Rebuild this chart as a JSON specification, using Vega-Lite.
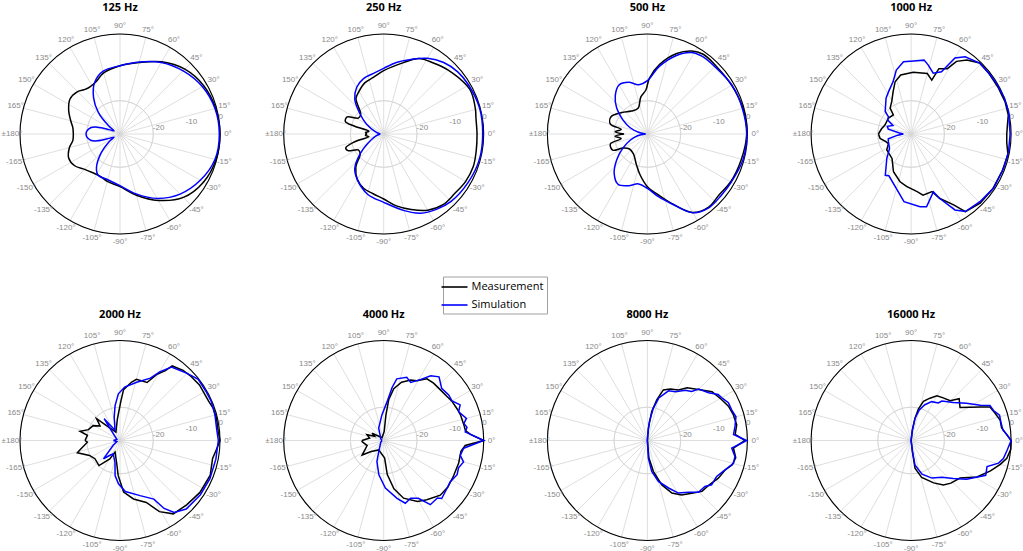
{
"$schema":"https://vega.github.io/schema/vega-lite/v6.json",
"padding":{"left":1,"top":2,"right":0,"bottom":0},
"background":"white",
"bounds":"flush",
"columns":4,
"spacing":{"row":106.5,"column":63.7},
"resolve":{"scale":{"x":"independent","y":"independent"}},
"config":{"view":{"stroke":null},
 "legend":{"orient":"none","legendX":423,"legendY":242.5,"strokeColor":"#a0a0a0","fillColor":"white","padding":3,"labelFont":"Open Sans","labelFontSize":11,"labelColor":"#000","symbolType":"M-2,0H2","symbolSize":169,"symbolStrokeWidth":1.6,"symbolOffset":1,"rowPadding":5,"labelOffset":9.5}},
"datasets":{
 "rings":[{"v":10},{"v":20}],
 "outer":[{"v":30}],
 "spokes":[{"a":0},{"a":15},{"a":30},{"a":45},{"a":60},{"a":75},{"a":90},{"a":105},{"a":120},{"a":135},{"a":150},{"a":165}],
 "alabels":[{"a":0,"t":"0°"},{"a":15,"t":"15°"},{"a":30,"t":"30°"},{"a":45,"t":"45°"},{"a":60,"t":"60°"},{"a":75,"t":"75°"},{"a":90,"t":"90°"},{"a":105,"t":"105°"},{"a":120,"t":"120°"},{"a":135,"t":"135°"},{"a":150,"t":"150°"},{"a":165,"t":"165°"},{"a":180,"t":"±180°"},{"a":-165,"t":"-165°"},{"a":-150,"t":"-150°"},{"a":-135,"t":"-135°"},{"a":-120,"t":"-120°"},{"a":-105,"t":"-105°"},{"a":-90,"t":"-90°"},{"a":-75,"t":"-75°"},{"a":-60,"t":"-60°"},{"a":-45,"t":"-45°"},{"a":-30,"t":"-30°"},{"a":-15,"t":"-15°"}],
 "rlabels":[{"v":10,"t":"-20"},{"v":20,"t":"-10"},{"v":30,"t":"0"}],
 "curves":[
{"f":125,"s":"Measurement","a":-180,"d":-16},{"f":125,"s":"Measurement","a":-172,"d":-15.7},{"f":125,"s":"Measurement","a":-165,"d":-14.3},{"f":125,"s":"Measurement","a":-155,"d":-13},{"f":125,"s":"Measurement","a":-145,"d":-13.4},{"f":125,"s":"Measurement","a":-135,"d":-15},{"f":125,"s":"Measurement","a":-125,"d":-15.8},{"f":125,"s":"Measurement","a":-115,"d":-16},{"f":125,"s":"Measurement","a":-105,"d":-15.3},{"f":125,"s":"Measurement","a":-90,"d":-14.2},{"f":125,"s":"Measurement","a":-75,"d":-11},{"f":125,"s":"Measurement","a":-60,"d":-7},{"f":125,"s":"Measurement","a":-45,"d":-3.1},{"f":125,"s":"Measurement","a":-30,"d":-1.1},{"f":125,"s":"Measurement","a":-15,"d":-0.2},{"f":125,"s":"Measurement","a":0,"d":0},{"f":125,"s":"Measurement","a":15,"d":-0.3},{"f":125,"s":"Measurement","a":30,"d":-1},{"f":125,"s":"Measurement","a":45,"d":-2.5},{"f":125,"s":"Measurement","a":60,"d":-5},{"f":125,"s":"Measurement","a":75,"d":-7.8},{"f":125,"s":"Measurement","a":90,"d":-9.5},{"f":125,"s":"Measurement","a":105,"d":-11},{"f":125,"s":"Measurement","a":115,"d":-12.8},{"f":125,"s":"Measurement","a":122,"d":-13.2},{"f":125,"s":"Measurement","a":128,"d":-13},{"f":125,"s":"Measurement","a":135,"d":-12},{"f":125,"s":"Measurement","a":145,"d":-11.7},{"f":125,"s":"Measurement","a":155,"d":-13},{"f":125,"s":"Measurement","a":165,"d":-14.7},{"f":125,"s":"Measurement","a":172,"d":-15.7},{"f":125,"s":"Measurement","a":180,"d":-16},
{"f":125,"s":"Simulation","a":-180,"d":-19.8},{"f":125,"s":"Simulation","a":-175,"d":-20},{"f":125,"s":"Simulation","a":-168,"d":-21},{"f":125,"s":"Simulation","a":-163,"d":-23},{"f":125,"s":"Simulation","a":-158,"d":-26.5},{"f":125,"s":"Simulation","a":-152,"d":-28},{"f":125,"s":"Simulation","a":-145,"d":-26},{"f":125,"s":"Simulation","a":-135,"d":-22},{"f":125,"s":"Simulation","a":-125,"d":-17.7},{"f":125,"s":"Simulation","a":-118,"d":-16},{"f":125,"s":"Simulation","a":-105,"d":-15.8},{"f":125,"s":"Simulation","a":-90,"d":-14.5},{"f":125,"s":"Simulation","a":-75,"d":-11.4},{"f":125,"s":"Simulation","a":-60,"d":-7.7},{"f":125,"s":"Simulation","a":-45,"d":-4.5},{"f":125,"s":"Simulation","a":-30,"d":-2.2},{"f":125,"s":"Simulation","a":-15,"d":-0.5},{"f":125,"s":"Simulation","a":0,"d":-0.2},{"f":125,"s":"Simulation","a":15,"d":-0.5},{"f":125,"s":"Simulation","a":30,"d":-1.5},{"f":125,"s":"Simulation","a":45,"d":-3.2},{"f":125,"s":"Simulation","a":60,"d":-5.2},{"f":125,"s":"Simulation","a":75,"d":-7.6},{"f":125,"s":"Simulation","a":90,"d":-9.5},{"f":125,"s":"Simulation","a":105,"d":-10.5},{"f":125,"s":"Simulation","a":116,"d":-12.7},{"f":125,"s":"Simulation","a":126,"d":-16.5},{"f":125,"s":"Simulation","a":135,"d":-20.8},{"f":125,"s":"Simulation","a":144,"d":-25.7},{"f":125,"s":"Simulation","a":152,"d":-28},{"f":125,"s":"Simulation","a":158,"d":-26.5},{"f":125,"s":"Simulation","a":163,"d":-23},{"f":125,"s":"Simulation","a":168,"d":-21},{"f":125,"s":"Simulation","a":175,"d":-20},{"f":125,"s":"Simulation","a":180,"d":-19.8},
{"f":250,"s":"Measurement","a":-180,"d":-25},{"f":250,"s":"Measurement","a":-176,"d":-24.5},{"f":250,"s":"Measurement","a":-170,"d":-25.5},{"f":250,"s":"Measurement","a":-165,"d":-21},{"f":250,"s":"Measurement","a":-160,"d":-17.9},{"f":250,"s":"Measurement","a":-155,"d":-18.2},{"f":250,"s":"Measurement","a":-148,"d":-21},{"f":250,"s":"Measurement","a":-140,"d":-20.8},{"f":250,"s":"Measurement","a":-130,"d":-17},{"f":250,"s":"Measurement","a":-120,"d":-14.2},{"f":250,"s":"Measurement","a":-110,"d":-12.6},{"f":250,"s":"Measurement","a":-100,"d":-11.8},{"f":250,"s":"Measurement","a":-90,"d":-10.5},{"f":250,"s":"Measurement","a":-80,"d":-8.1},{"f":250,"s":"Measurement","a":-70,"d":-5.9},{"f":250,"s":"Measurement","a":-60,"d":-3.6},{"f":250,"s":"Measurement","a":-50,"d":-2.3},{"f":250,"s":"Measurement","a":-40,"d":-2.2},{"f":250,"s":"Measurement","a":-30,"d":-1.6},{"f":250,"s":"Measurement","a":-20,"d":-1.4},{"f":250,"s":"Measurement","a":-10,"d":-1.8},{"f":250,"s":"Measurement","a":0,"d":-2},{"f":250,"s":"Measurement","a":10,"d":-1.9},{"f":250,"s":"Measurement","a":15,"d":-1.5},{"f":250,"s":"Measurement","a":25,"d":-0.9},{"f":250,"s":"Measurement","a":30,"d":-1.1},{"f":250,"s":"Measurement","a":45,"d":-2.8},{"f":250,"s":"Measurement","a":55,"d":-4},{"f":250,"s":"Measurement","a":65,"d":-5},{"f":250,"s":"Measurement","a":75,"d":-7.9},{"f":250,"s":"Measurement","a":90,"d":-11},{"f":250,"s":"Measurement","a":100,"d":-12.7},{"f":250,"s":"Measurement","a":110,"d":-13.6},{"f":250,"s":"Measurement","a":120,"d":-15.2},{"f":250,"s":"Measurement","a":128,"d":-16.5},{"f":250,"s":"Measurement","a":140,"d":-21},{"f":250,"s":"Measurement","a":148,"d":-21},{"f":250,"s":"Measurement","a":155,"d":-17.9},{"f":250,"s":"Measurement","a":162,"d":-17.9},{"f":250,"s":"Measurement","a":165,"d":-21},{"f":250,"s":"Measurement","a":170,"d":-25.5},{"f":250,"s":"Measurement","a":176,"d":-24.5},{"f":250,"s":"Measurement","a":180,"d":-25},
{"f":250,"s":"Simulation","a":-180,"d":-29},{"f":250,"s":"Simulation","a":-165,"d":-27.5},{"f":250,"s":"Simulation","a":-150,"d":-24.6},{"f":250,"s":"Simulation","a":-140,"d":-20.8},{"f":250,"s":"Simulation","a":-130,"d":-16.5},{"f":250,"s":"Simulation","a":-120,"d":-14.2},{"f":250,"s":"Simulation","a":-105,"d":-11.3},{"f":250,"s":"Simulation","a":-90,"d":-9.5},{"f":250,"s":"Simulation","a":-75,"d":-6.2},{"f":250,"s":"Simulation","a":-65,"d":-3.8},{"f":250,"s":"Simulation","a":-55,"d":-2.4},{"f":250,"s":"Simulation","a":-45,"d":-1.4},{"f":250,"s":"Simulation","a":-30,"d":-0.8},{"f":250,"s":"Simulation","a":-15,"d":-0.3},{"f":250,"s":"Simulation","a":0,"d":-0.3},{"f":250,"s":"Simulation","a":15,"d":-0.2},{"f":250,"s":"Simulation","a":30,"d":-0.6},{"f":250,"s":"Simulation","a":40,"d":-1},{"f":250,"s":"Simulation","a":50,"d":-2},{"f":250,"s":"Simulation","a":60,"d":-3.8},{"f":250,"s":"Simulation","a":70,"d":-6.2},{"f":250,"s":"Simulation","a":80,"d":-8.2},{"f":250,"s":"Simulation","a":90,"d":-10.3},{"f":250,"s":"Simulation","a":100,"d":-11.6},{"f":250,"s":"Simulation","a":110,"d":-12.3},{"f":250,"s":"Simulation","a":120,"d":-13.8},{"f":250,"s":"Simulation","a":130,"d":-16.5},{"f":250,"s":"Simulation","a":140,"d":-20.8},{"f":250,"s":"Simulation","a":150,"d":-24},{"f":250,"s":"Simulation","a":165,"d":-27.5},{"f":250,"s":"Simulation","a":180,"d":-29},
{"f":500,"s":"Measurement","a":-180,"d":-23},{"f":500,"s":"Measurement","a":-176,"d":-20.3},{"f":500,"s":"Measurement","a":-170,"d":-22},{"f":500,"s":"Measurement","a":-165,"d":-18.5},{"f":500,"s":"Measurement","a":-155,"d":-18.5},{"f":500,"s":"Measurement","a":-150,"d":-21.6},{"f":500,"s":"Measurement","a":-140,"d":-23},{"f":500,"s":"Measurement","a":-125,"d":-22.7},{"f":500,"s":"Measurement","a":-110,"d":-20.3},{"f":500,"s":"Measurement","a":-100,"d":-17.5},{"f":500,"s":"Measurement","a":-90,"d":-14.2},{"f":500,"s":"Measurement","a":-80,"d":-11.5},{"f":500,"s":"Measurement","a":-70,"d":-7.6},{"f":500,"s":"Measurement","a":-60,"d":-2.8},{"f":500,"s":"Measurement","a":-50,"d":-1.4},{"f":500,"s":"Measurement","a":-40,"d":-1.8},{"f":500,"s":"Measurement","a":-30,"d":-1.2},{"f":500,"s":"Measurement","a":-15,"d":-0.8},{"f":500,"s":"Measurement","a":0,"d":-0.2},{"f":500,"s":"Measurement","a":15,"d":-0.3},{"f":500,"s":"Measurement","a":30,"d":-0.8},{"f":500,"s":"Measurement","a":45,"d":-1},{"f":500,"s":"Measurement","a":55,"d":-0.8},{"f":500,"s":"Measurement","a":62,"d":-1.8},{"f":500,"s":"Measurement","a":70,"d":-4.3},{"f":500,"s":"Measurement","a":80,"d":-8.8},{"f":500,"s":"Measurement","a":88,"d":-13.3},{"f":500,"s":"Measurement","a":92,"d":-16.8},{"f":500,"s":"Measurement","a":100,"d":-18.7},{"f":500,"s":"Measurement","a":110,"d":-21.8},{"f":500,"s":"Measurement","a":125,"d":-21.6},{"f":500,"s":"Measurement","a":140,"d":-20},{"f":500,"s":"Measurement","a":155,"d":-17.9},{"f":500,"s":"Measurement","a":165,"d":-18.5},{"f":500,"s":"Measurement","a":170,"d":-22},{"f":500,"s":"Measurement","a":176,"d":-20.3},{"f":500,"s":"Measurement","a":180,"d":-23},
{"f":500,"s":"Simulation","a":-180,"d":-29.5},{"f":500,"s":"Simulation","a":-170,"d":-27},{"f":500,"s":"Simulation","a":-160,"d":-24.5},{"f":500,"s":"Simulation","a":-150,"d":-21.5},{"f":500,"s":"Simulation","a":-140,"d":-18},{"f":500,"s":"Simulation","a":-130,"d":-14.5},{"f":500,"s":"Simulation","a":-120,"d":-12.5},{"f":500,"s":"Simulation","a":-110,"d":-13.5},{"f":500,"s":"Simulation","a":-100,"d":-14.8},{"f":500,"s":"Simulation","a":-90,"d":-13.7},{"f":500,"s":"Simulation","a":-80,"d":-10.9},{"f":500,"s":"Simulation","a":-70,"d":-7.5},{"f":500,"s":"Simulation","a":-60,"d":-2.7},{"f":500,"s":"Simulation","a":-50,"d":-1.2},{"f":500,"s":"Simulation","a":-40,"d":-1.2},{"f":500,"s":"Simulation","a":-30,"d":-1},{"f":500,"s":"Simulation","a":-15,"d":-0.3},{"f":500,"s":"Simulation","a":0,"d":-0.2},{"f":500,"s":"Simulation","a":15,"d":-0.5},{"f":500,"s":"Simulation","a":30,"d":-0.7},{"f":500,"s":"Simulation","a":45,"d":-1.4},{"f":500,"s":"Simulation","a":55,"d":-1.5},{"f":500,"s":"Simulation","a":62,"d":-2.3},{"f":500,"s":"Simulation","a":70,"d":-5},{"f":500,"s":"Simulation","a":80,"d":-9.4},{"f":500,"s":"Simulation","a":90,"d":-14},{"f":500,"s":"Simulation","a":100,"d":-15},{"f":500,"s":"Simulation","a":110,"d":-13.5},{"f":500,"s":"Simulation","a":120,"d":-13},{"f":500,"s":"Simulation","a":130,"d":-15},{"f":500,"s":"Simulation","a":140,"d":-18},{"f":500,"s":"Simulation","a":150,"d":-21.5},{"f":500,"s":"Simulation","a":160,"d":-24.5},{"f":500,"s":"Simulation","a":170,"d":-27.5},{"f":500,"s":"Simulation","a":180,"d":-29.5},
{"f":1000,"s":"Measurement","a":-180,"d":-20.2},{"f":1000,"s":"Measurement","a":-172,"d":-20.6},{"f":1000,"s":"Measurement","a":-164,"d":-22},{"f":1000,"s":"Measurement","a":-157,"d":-22.6},{"f":1000,"s":"Measurement","a":-147,"d":-21.3},{"f":1000,"s":"Measurement","a":-128,"d":-20.7},{"f":1000,"s":"Measurement","a":-115,"d":-17.5},{"f":1000,"s":"Measurement","a":-103,"d":-15.3},{"f":1000,"s":"Measurement","a":-95,"d":-14.2},{"f":1000,"s":"Measurement","a":-84,"d":-12.6},{"f":1000,"s":"Measurement","a":-79,"d":-11.3},{"f":1000,"s":"Measurement","a":-70,"d":-11.6},{"f":1000,"s":"Measurement","a":-66,"d":-8.8},{"f":1000,"s":"Measurement","a":-59,"d":-5.2},{"f":1000,"s":"Measurement","a":-55,"d":-1.6},{"f":1000,"s":"Measurement","a":-45,"d":-0.7},{"f":1000,"s":"Measurement","a":-34,"d":-0.5},{"f":1000,"s":"Measurement","a":-22,"d":-0.5},{"f":1000,"s":"Measurement","a":-12,"d":-0.3},{"f":1000,"s":"Measurement","a":-5,"d":-1.2},{"f":1000,"s":"Measurement","a":0,"d":-1.3},{"f":1000,"s":"Measurement","a":5,"d":-1},{"f":1000,"s":"Measurement","a":11,"d":-0.3},{"f":1000,"s":"Measurement","a":19,"d":-0.2},{"f":1000,"s":"Measurement","a":28,"d":-0.4},{"f":1000,"s":"Measurement","a":38,"d":-0.4},{"f":1000,"s":"Measurement","a":46,"d":-0.4},{"f":1000,"s":"Measurement","a":53,"d":-2.2},{"f":1000,"s":"Measurement","a":58,"d":-4.3},{"f":1000,"s":"Measurement","a":61,"d":-7.6},{"f":1000,"s":"Measurement","a":67,"d":-8.7},{"f":1000,"s":"Measurement","a":69,"d":-12.7},{"f":1000,"s":"Measurement","a":75,"d":-11.2},{"f":1000,"s":"Measurement","a":88,"d":-11.5},{"f":1000,"s":"Measurement","a":100,"d":-12},{"f":1000,"s":"Measurement","a":107,"d":-13.6},{"f":1000,"s":"Measurement","a":113,"d":-16.2},{"f":1000,"s":"Measurement","a":121,"d":-18.7},{"f":1000,"s":"Measurement","a":129,"d":-20},{"f":1000,"s":"Measurement","a":133,"d":-22.2},{"f":1000,"s":"Measurement","a":145,"d":-21.7},{"f":1000,"s":"Measurement","a":161,"d":-21.7},{"f":1000,"s":"Measurement","a":170,"d":-21},{"f":1000,"s":"Measurement","a":180,"d":-20.2},
{"f":1000,"s":"Simulation","a":-180,"d":-27.7},{"f":1000,"s":"Simulation","a":-175,"d":-26},{"f":1000,"s":"Simulation","a":-168,"d":-23},{"f":1000,"s":"Simulation","a":-161,"d":-22.8},{"f":1000,"s":"Simulation","a":-146,"d":-22.2},{"f":1000,"s":"Simulation","a":-135,"d":-19.7},{"f":1000,"s":"Simulation","a":-122,"d":-15.4},{"f":1000,"s":"Simulation","a":-118,"d":-15.8},{"f":1000,"s":"Simulation","a":-104,"d":-12.7},{"f":1000,"s":"Simulation","a":-96,"d":-9.6},{"f":1000,"s":"Simulation","a":-83,"d":-8},{"f":1000,"s":"Simulation","a":-78,"d":-7.7},{"f":1000,"s":"Simulation","a":-69,"d":-11.4},{"f":1000,"s":"Simulation","a":-66,"d":-8.8},{"f":1000,"s":"Simulation","a":-60,"d":-3.7},{"f":1000,"s":"Simulation","a":-55,"d":-1.6},{"f":1000,"s":"Simulation","a":-44,"d":-1},{"f":1000,"s":"Simulation","a":-33,"d":-0.4},{"f":1000,"s":"Simulation","a":-20,"d":-0.4},{"f":1000,"s":"Simulation","a":-10,"d":-0.3},{"f":1000,"s":"Simulation","a":0,"d":-0.3},{"f":1000,"s":"Simulation","a":13,"d":0},{"f":1000,"s":"Simulation","a":21,"d":0},{"f":1000,"s":"Simulation","a":30,"d":-0.2},{"f":1000,"s":"Simulation","a":38,"d":-0.4},{"f":1000,"s":"Simulation","a":46,"d":-0.4},{"f":1000,"s":"Simulation","a":55,"d":-1.7},{"f":1000,"s":"Simulation","a":60,"d":-3.7},{"f":1000,"s":"Simulation","a":64,"d":-9.2},{"f":1000,"s":"Simulation","a":70,"d":-10.6},{"f":1000,"s":"Simulation","a":76,"d":-8.7},{"f":1000,"s":"Simulation","a":80,"d":-7.5},{"f":1000,"s":"Simulation","a":88,"d":-8.1},{"f":1000,"s":"Simulation","a":96,"d":-8.2},{"f":1000,"s":"Simulation","a":103,"d":-10.3},{"f":1000,"s":"Simulation","a":109,"d":-13.4},{"f":1000,"s":"Simulation","a":118,"d":-15.6},{"f":1000,"s":"Simulation","a":125,"d":-16.9},{"f":1000,"s":"Simulation","a":139,"d":-19.7},{"f":1000,"s":"Simulation","a":143,"d":-21.5},{"f":1000,"s":"Simulation","a":149,"d":-21.8},{"f":1000,"s":"Simulation","a":155,"d":-24},{"f":1000,"s":"Simulation","a":162,"d":-22.5},{"f":1000,"s":"Simulation","a":168,"d":-23},{"f":1000,"s":"Simulation","a":175,"d":-26.5},{"f":1000,"s":"Simulation","a":180,"d":-27.7},
{"f":2000,"s":"Measurement","a":-180,"d":-19.5},{"f":2000,"s":"Measurement","a":-177,"d":-20.2},{"f":2000,"s":"Measurement","a":-167,"d":-17.7},{"f":2000,"s":"Measurement","a":-164,"d":-16.7},{"f":2000,"s":"Measurement","a":-154,"d":-19.8},{"f":2000,"s":"Measurement","a":-144,"d":-20.7},{"f":2000,"s":"Measurement","a":-130,"d":-20.2},{"f":2000,"s":"Measurement","a":-119,"d":-23.7},{"f":2000,"s":"Measurement","a":-113,"d":-26.2},{"f":2000,"s":"Measurement","a":-99,"d":-23.4},{"f":2000,"s":"Measurement","a":-93,"d":-19.5},{"f":2000,"s":"Measurement","a":-86,"d":-14.5},{"f":2000,"s":"Measurement","a":-77,"d":-12},{"f":2000,"s":"Measurement","a":-67,"d":-9.8},{"f":2000,"s":"Measurement","a":-61,"d":-5.6},{"f":2000,"s":"Measurement","a":-54,"d":-2.8},{"f":2000,"s":"Measurement","a":-44,"d":-2.2},{"f":2000,"s":"Measurement","a":-33,"d":-1.4},{"f":2000,"s":"Measurement","a":-21,"d":-1},{"f":2000,"s":"Measurement","a":-11,"d":-1.7},{"f":2000,"s":"Measurement","a":-5,"d":-0.9},{"f":2000,"s":"Measurement","a":0,"d":0},{"f":2000,"s":"Measurement","a":5,"d":-0.4},{"f":2000,"s":"Measurement","a":13,"d":-0.3},{"f":2000,"s":"Measurement","a":19,"d":-0.4},{"f":2000,"s":"Measurement","a":24,"d":-0.9},{"f":2000,"s":"Measurement","a":35,"d":-0.9},{"f":2000,"s":"Measurement","a":42,"d":-1.3},{"f":2000,"s":"Measurement","a":48,"d":-1.7},{"f":2000,"s":"Measurement","a":55,"d":-2.7},{"f":2000,"s":"Measurement","a":57,"d":-5},{"f":2000,"s":"Measurement","a":61,"d":-7.4},{"f":2000,"s":"Measurement","a":65,"d":-10.8},{"f":2000,"s":"Measurement","a":75,"d":-11},{"f":2000,"s":"Measurement","a":79,"d":-12.2},{"f":2000,"s":"Measurement","a":86,"d":-14.7},{"f":2000,"s":"Measurement","a":89,"d":-18.5},{"f":2000,"s":"Measurement","a":97,"d":-23.5},{"f":2000,"s":"Measurement","a":116,"d":-27.2},{"f":2000,"s":"Measurement","a":137,"d":-20.4},{"f":2000,"s":"Measurement","a":144,"d":-22.6},{"f":2000,"s":"Measurement","a":151,"d":-20.8},{"f":2000,"s":"Measurement","a":161,"d":-20},{"f":2000,"s":"Measurement","a":167,"d":-17.7},{"f":2000,"s":"Measurement","a":171,"d":-20.1},{"f":2000,"s":"Measurement","a":180,"d":-19.5},
{"f":2000,"s":"Simulation","a":-180,"d":-28},{"f":2000,"s":"Simulation","a":-160,"d":-29},{"f":2000,"s":"Simulation","a":-145,"d":-27.5},{"f":2000,"s":"Simulation","a":-132,"d":-22.6},{"f":2000,"s":"Simulation","a":-125,"d":-24.5},{"f":2000,"s":"Simulation","a":-117,"d":-25.5},{"f":2000,"s":"Simulation","a":-103,"d":-23.3},{"f":2000,"s":"Simulation","a":-98,"d":-19.4},{"f":2000,"s":"Simulation","a":-92,"d":-17},{"f":2000,"s":"Simulation","a":-84,"d":-14.6},{"f":2000,"s":"Simulation","a":-70,"d":-12.4},{"f":2000,"s":"Simulation","a":-60,"d":-9.7},{"f":2000,"s":"Simulation","a":-57,"d":-5.7},{"f":2000,"s":"Simulation","a":-53,"d":-3},{"f":2000,"s":"Simulation","a":-46,"d":-1.4},{"f":2000,"s":"Simulation","a":-34,"d":-0.9},{"f":2000,"s":"Simulation","a":-23,"d":-0.7},{"f":2000,"s":"Simulation","a":-11,"d":-0.7},{"f":2000,"s":"Simulation","a":0,"d":-0.5},{"f":2000,"s":"Simulation","a":7,"d":-0.8},{"f":2000,"s":"Simulation","a":15,"d":-0.5},{"f":2000,"s":"Simulation","a":23,"d":-0.2},{"f":2000,"s":"Simulation","a":30,"d":-0.3},{"f":2000,"s":"Simulation","a":38,"d":-0.2},{"f":2000,"s":"Simulation","a":45,"d":-1.5},{"f":2000,"s":"Simulation","a":55,"d":-3.1},{"f":2000,"s":"Simulation","a":60,"d":-6.2},{"f":2000,"s":"Simulation","a":64,"d":-9.2},{"f":2000,"s":"Simulation","a":74,"d":-11.8},{"f":2000,"s":"Simulation","a":85,"d":-13.9},{"f":2000,"s":"Simulation","a":92,"d":-16},{"f":2000,"s":"Simulation","a":98,"d":-19.4},{"f":2000,"s":"Simulation","a":104,"d":-22.8},{"f":2000,"s":"Simulation","a":116,"d":-26.6},{"f":2000,"s":"Simulation","a":126,"d":-21.9},{"f":2000,"s":"Simulation","a":135,"d":-27.2},{"f":2000,"s":"Simulation","a":160,"d":-29},{"f":2000,"s":"Simulation","a":180,"d":-28},
{"f":4000,"s":"Measurement","a":-180,"d":-23.5},{"f":4000,"s":"Measurement","a":-177,"d":-23.5},{"f":4000,"s":"Measurement","a":-163,"d":-24.8},{"f":4000,"s":"Measurement","a":-146,"d":-22.2},{"f":4000,"s":"Measurement","a":-139,"d":-25},{"f":4000,"s":"Measurement","a":-118,"d":-26.8},{"f":4000,"s":"Measurement","a":-87,"d":-24.7},{"f":4000,"s":"Measurement","a":-84,"d":-19.7},{"f":4000,"s":"Measurement","a":-78,"d":-15.2},{"f":4000,"s":"Measurement","a":-71,"d":-11.7},{"f":4000,"s":"Measurement","a":-61,"d":-9.1},{"f":4000,"s":"Measurement","a":-54,"d":-8},{"f":4000,"s":"Measurement","a":-44,"d":-6.4},{"f":4000,"s":"Measurement","a":-36,"d":-6.2},{"f":4000,"s":"Measurement","a":-27,"d":-6.5},{"f":4000,"s":"Measurement","a":-17,"d":-6.5},{"f":4000,"s":"Measurement","a":-8,"d":-6.6},{"f":4000,"s":"Measurement","a":-3.5,"d":-5.5},{"f":4000,"s":"Measurement","a":0,"d":0},{"f":4000,"s":"Measurement","a":4,"d":-3.9},{"f":4000,"s":"Measurement","a":7,"d":-5.3},{"f":4000,"s":"Measurement","a":11,"d":-5.5},{"f":4000,"s":"Measurement","a":18,"d":-5.7},{"f":4000,"s":"Measurement","a":23,"d":-6},{"f":4000,"s":"Measurement","a":30,"d":-6.4},{"f":4000,"s":"Measurement","a":35,"d":-6.9},{"f":4000,"s":"Measurement","a":42,"d":-7.2},{"f":4000,"s":"Measurement","a":49,"d":-7.2},{"f":4000,"s":"Measurement","a":55,"d":-7.4},{"f":4000,"s":"Measurement","a":61,"d":-9.5},{"f":4000,"s":"Measurement","a":66,"d":-10.1},{"f":4000,"s":"Measurement","a":73,"d":-11.7},{"f":4000,"s":"Measurement","a":79,"d":-14.2},{"f":4000,"s":"Measurement","a":83,"d":-17.7},{"f":4000,"s":"Measurement","a":85,"d":-22.3},{"f":4000,"s":"Measurement","a":87,"d":-27.3},{"f":4000,"s":"Measurement","a":120,"d":-29},{"f":4000,"s":"Measurement","a":148,"d":-25.9},{"f":4000,"s":"Measurement","a":155,"d":-27},{"f":4000,"s":"Measurement","a":161,"d":-24.7},{"f":4000,"s":"Measurement","a":170,"d":-25.7},{"f":4000,"s":"Measurement","a":180,"d":-23.5},
{"f":4000,"s":"Simulation","a":-180,"d":-29.5},{"f":4000,"s":"Simulation","a":-150,"d":-29},{"f":4000,"s":"Simulation","a":-114,"d":-26.4},{"f":4000,"s":"Simulation","a":-108,"d":-23.4},{"f":4000,"s":"Simulation","a":-98,"d":-19.6},{"f":4000,"s":"Simulation","a":-88,"d":-15.7},{"f":4000,"s":"Simulation","a":-77,"d":-12.2},{"f":4000,"s":"Simulation","a":-71,"d":-10.1},{"f":4000,"s":"Simulation","a":-65,"d":-10.9},{"f":4000,"s":"Simulation","a":-59,"d":-9.8},{"f":4000,"s":"Simulation","a":-54,"d":-6.2},{"f":4000,"s":"Simulation","a":-47,"d":-6.4},{"f":4000,"s":"Simulation","a":-45,"d":-5.4},{"f":4000,"s":"Simulation","a":-37,"d":-6.2},{"f":4000,"s":"Simulation","a":-32,"d":-6.5},{"f":4000,"s":"Simulation","a":-25,"d":-5.7},{"f":4000,"s":"Simulation","a":-20,"d":-6.1},{"f":4000,"s":"Simulation","a":-15,"d":-5.2},{"f":4000,"s":"Simulation","a":-11,"d":-6.6},{"f":4000,"s":"Simulation","a":-5.5,"d":-5.9},{"f":4000,"s":"Simulation","a":0,"d":0},{"f":4000,"s":"Simulation","a":6,"d":-5.4},{"f":4000,"s":"Simulation","a":9,"d":-4.7},{"f":4000,"s":"Simulation","a":12,"d":-5.4},{"f":4000,"s":"Simulation","a":15,"d":-4.3},{"f":4000,"s":"Simulation","a":21,"d":-5.9},{"f":4000,"s":"Simulation","a":25,"d":-4.7},{"f":4000,"s":"Simulation","a":30,"d":-6.3},{"f":4000,"s":"Simulation","a":35,"d":-6.2},{"f":4000,"s":"Simulation","a":42,"d":-6.6},{"f":4000,"s":"Simulation","a":49,"d":-4.7},{"f":4000,"s":"Simulation","a":54,"d":-6},{"f":4000,"s":"Simulation","a":59,"d":-8.7},{"f":4000,"s":"Simulation","a":65,"d":-10.8},{"f":4000,"s":"Simulation","a":70,"d":-9.8},{"f":4000,"s":"Simulation","a":78,"d":-11.1},{"f":4000,"s":"Simulation","a":81,"d":-13.9},{"f":4000,"s":"Simulation","a":85,"d":-18.3},{"f":4000,"s":"Simulation","a":94,"d":-22.3},{"f":4000,"s":"Simulation","a":112,"d":-26},{"f":4000,"s":"Simulation","a":150,"d":-29},{"f":4000,"s":"Simulation","a":180,"d":-29.5},
{"f":8000,"s":"Measurement","a":-180,"d":-30},{"f":8000,"s":"Measurement","a":-90,"d":-30},{"f":8000,"s":"Measurement","a":-85,"d":-24.7},{"f":8000,"s":"Measurement","a":-79,"d":-20.5},{"f":8000,"s":"Measurement","a":-72,"d":-16},{"f":8000,"s":"Measurement","a":-65,"d":-12.6},{"f":8000,"s":"Measurement","a":-58,"d":-10.7},{"f":8000,"s":"Measurement","a":-50,"d":-9.3},{"f":8000,"s":"Measurement","a":-43,"d":-7.6},{"f":8000,"s":"Measurement","a":-35,"d":-7.1},{"f":8000,"s":"Measurement","a":-28,"d":-5.9},{"f":8000,"s":"Measurement","a":-21,"d":-5.1},{"f":8000,"s":"Measurement","a":-16,"d":-3.5},{"f":8000,"s":"Measurement","a":-11,"d":-3},{"f":8000,"s":"Measurement","a":-5,"d":-4.1},{"f":8000,"s":"Measurement","a":0,"d":-0.7},{"f":8000,"s":"Measurement","a":4,"d":-3.6},{"f":8000,"s":"Measurement","a":10,"d":-2.8},{"f":8000,"s":"Measurement","a":17,"d":-3.1},{"f":8000,"s":"Measurement","a":23,"d":-3.6},{"f":8000,"s":"Measurement","a":29,"d":-4.6},{"f":8000,"s":"Measurement","a":37,"d":-5.7},{"f":8000,"s":"Measurement","a":45,"d":-8.4},{"f":8000,"s":"Measurement","a":53,"d":-10.2},{"f":8000,"s":"Measurement","a":58.5,"d":-12.2},{"f":8000,"s":"Measurement","a":66,"d":-13.1},{"f":8000,"s":"Measurement","a":72.5,"d":-14.1},{"f":8000,"s":"Measurement","a":77,"d":-17.5},{"f":8000,"s":"Measurement","a":81.5,"d":-21.2},{"f":8000,"s":"Measurement","a":85.4,"d":-26.3},{"f":8000,"s":"Measurement","a":90,"d":-30},{"f":8000,"s":"Measurement","a":180,"d":-30},
{"f":8000,"s":"Simulation","a":-180,"d":-30},{"f":8000,"s":"Simulation","a":-90,"d":-30},{"f":8000,"s":"Simulation","a":-87,"d":-24.7},{"f":8000,"s":"Simulation","a":-82,"d":-20.6},{"f":8000,"s":"Simulation","a":-75,"d":-17.3},{"f":8000,"s":"Simulation","a":-66,"d":-14.4},{"f":8000,"s":"Simulation","a":-59.5,"d":-11.7},{"f":8000,"s":"Simulation","a":-51.6,"d":-10.2},{"f":8000,"s":"Simulation","a":-45.4,"d":-8.2},{"f":8000,"s":"Simulation","a":-38.6,"d":-7.9},{"f":8000,"s":"Simulation","a":-34.6,"d":-6.6},{"f":8000,"s":"Simulation","a":-27.4,"d":-6.6},{"f":8000,"s":"Simulation","a":-20.7,"d":-5.1},{"f":8000,"s":"Simulation","a":-14.8,"d":-3.3},{"f":8000,"s":"Simulation","a":-10.3,"d":-3.3},{"f":8000,"s":"Simulation","a":-5.2,"d":-4.6},{"f":8000,"s":"Simulation","a":0,"d":-0.2},{"f":8000,"s":"Simulation","a":4,"d":-4.1},{"f":8000,"s":"Simulation","a":9,"d":-3.4},{"f":8000,"s":"Simulation","a":15,"d":-2.5},{"f":8000,"s":"Simulation","a":20,"d":-3.1},{"f":8000,"s":"Simulation","a":25,"d":-3.2},{"f":8000,"s":"Simulation","a":30,"d":-4.3},{"f":8000,"s":"Simulation","a":33,"d":-4.7},{"f":8000,"s":"Simulation","a":38,"d":-6.7},{"f":8000,"s":"Simulation","a":45,"d":-8.2},{"f":8000,"s":"Simulation","a":48,"d":-10.2},{"f":8000,"s":"Simulation","a":53,"d":-11.1},{"f":8000,"s":"Simulation","a":60,"d":-13.1},{"f":8000,"s":"Simulation","a":67,"d":-13.8},{"f":8000,"s":"Simulation","a":75,"d":-16.8},{"f":8000,"s":"Simulation","a":79.5,"d":-20.1},{"f":8000,"s":"Simulation","a":84,"d":-24.3},{"f":8000,"s":"Simulation","a":87,"d":-28.3},{"f":8000,"s":"Simulation","a":90,"d":-30},{"f":8000,"s":"Simulation","a":180,"d":-30},
{"f":16000,"s":"Measurement","a":-180,"d":-30},{"f":16000,"s":"Measurement","a":-90,"d":-30},{"f":16000,"s":"Measurement","a":-83,"d":-26.2},{"f":16000,"s":"Measurement","a":-82,"d":-21.6},{"f":16000,"s":"Measurement","a":-74,"d":-18.5},{"f":16000,"s":"Measurement","a":-62,"d":-15.6},{"f":16000,"s":"Measurement","a":-54,"d":-13.5},{"f":16000,"s":"Measurement","a":-47,"d":-12.5},{"f":16000,"s":"Measurement","a":-37.5,"d":-11.5},{"f":16000,"s":"Measurement","a":-29,"d":-7.4},{"f":16000,"s":"Measurement","a":-21,"d":-4.5},{"f":16000,"s":"Measurement","a":-15,"d":-2.3},{"f":16000,"s":"Measurement","a":-10.5,"d":-0.8},{"f":16000,"s":"Measurement","a":-5,"d":0},{"f":16000,"s":"Measurement","a":0,"d":0},{"f":16000,"s":"Measurement","a":4,"d":-1.4},{"f":16000,"s":"Measurement","a":8,"d":-2.6},{"f":16000,"s":"Measurement","a":13,"d":-2.6},{"f":16000,"s":"Measurement","a":18,"d":-3.5},{"f":16000,"s":"Measurement","a":23,"d":-4.3},{"f":16000,"s":"Measurement","a":26,"d":-7},{"f":16000,"s":"Measurement","a":34,"d":-12.3},{"f":16000,"s":"Measurement","a":41,"d":-10.9},{"f":16000,"s":"Measurement","a":45.5,"d":-13.3},{"f":16000,"s":"Measurement","a":53,"d":-14},{"f":16000,"s":"Measurement","a":60,"d":-14.5},{"f":16000,"s":"Measurement","a":66,"d":-16.1},{"f":16000,"s":"Measurement","a":72.5,"d":-17.7},{"f":16000,"s":"Measurement","a":77,"d":-20.3},{"f":16000,"s":"Measurement","a":80,"d":-23.2},{"f":16000,"s":"Measurement","a":83,"d":-26.8},{"f":16000,"s":"Measurement","a":90,"d":-30},{"f":16000,"s":"Measurement","a":180,"d":-30},
{"f":16000,"s":"Simulation","a":-180,"d":-30},{"f":16000,"s":"Simulation","a":-90,"d":-30},{"f":16000,"s":"Simulation","a":-83,"d":-26.7},{"f":16000,"s":"Simulation","a":-81,"d":-22.6},{"f":16000,"s":"Simulation","a":-72,"d":-19.4},{"f":16000,"s":"Simulation","a":-61,"d":-17.1},{"f":16000,"s":"Simulation","a":-50,"d":-15.6},{"f":16000,"s":"Simulation","a":-42,"d":-13},{"f":16000,"s":"Simulation","a":-35,"d":-9.7},{"f":16000,"s":"Simulation","a":-25,"d":-5.3},{"f":16000,"s":"Simulation","a":-19,"d":-5.9},{"f":16000,"s":"Simulation","a":-14.5,"d":-2.9},{"f":16000,"s":"Simulation","a":-11,"d":-1.8},{"f":16000,"s":"Simulation","a":-5.5,"d":-1},{"f":16000,"s":"Simulation","a":0,"d":0},{"f":16000,"s":"Simulation","a":3.4,"d":-1.2},{"f":16000,"s":"Simulation","a":6.6,"d":-2.3},{"f":16000,"s":"Simulation","a":12,"d":-2.5},{"f":16000,"s":"Simulation","a":16,"d":-2.4},{"f":16000,"s":"Simulation","a":20,"d":-3.7},{"f":16000,"s":"Simulation","a":24,"d":-4.1},{"f":16000,"s":"Simulation","a":27,"d":-6.7},{"f":16000,"s":"Simulation","a":34,"d":-10},{"f":16000,"s":"Simulation","a":42,"d":-13},{"f":16000,"s":"Simulation","a":52,"d":-15},{"f":16000,"s":"Simulation","a":54,"d":-16.1},{"f":16000,"s":"Simulation","a":62,"d":-16.8},{"f":16000,"s":"Simulation","a":69,"d":-18.5},{"f":16000,"s":"Simulation","a":75,"d":-20.5},{"f":16000,"s":"Simulation","a":80,"d":-23.2},{"f":16000,"s":"Simulation","a":83,"d":-26.8},{"f":16000,"s":"Simulation","a":90,"d":-30},{"f":16000,"s":"Simulation","a":180,"d":-30}
 ]
},
"concat":[
{"width":200,"height":200,"layer":[
 {"data":{"name":"rings"},"mark":{"type":"arc","theta":0,"theta2":6.2832,"filled":false,"stroke":"#d6d6d6","strokeWidth":0.8},"encoding":{"x":{"datum":0,"type":"quantitative","scale":{"domain":[-30,30],"nice":false,"zero":false},"axis":null},"y":{"datum":0,"type":"quantitative","scale":{"domain":[-30,30],"nice":false,"zero":false},"axis":null},"radius":{"field":"v","type":"quantitative","scale":{"type":"linear","domain":[0,30],"range":[0,100],"zero":true}}}},
 {"data":{"name":"spokes"},"transform":[{"calculate":"30*cos(datum.a*PI/180)","as":"x1"},{"calculate":"30*sin(datum.a*PI/180)","as":"y1"},{"calculate":"-datum.x1","as":"x2"},{"calculate":"-datum.y1","as":"y2"}],"mark":{"type":"rule","stroke":"#d6d6d6","strokeWidth":0.8},"encoding":{"x":{"field":"x1","type":"quantitative"},"y":{"field":"y1","type":"quantitative"},"x2":{"field":"x2"},"y2":{"field":"y2"}}},
 {"data":{"name":"outer"},"mark":{"type":"arc","theta":0,"theta2":6.2832,"filled":false,"stroke":"#000","strokeWidth":1.1},"encoding":{"x":{"datum":0,"type":"quantitative"},"y":{"datum":0,"type":"quantitative"},"radius":{"field":"v","type":"quantitative"}}},
 {"data":{"name":"alabels"},"transform":[{"calculate":"32.4*cos(datum.a*PI/180)","as":"lx"},{"calculate":"32.4*sin(datum.a*PI/180)","as":"ly"}],"mark":{"type":"text","font":"Liberation Sans","fontSize":8,"fill":"#8a8a8a","align":"center","baseline":"middle"},"encoding":{"x":{"field":"lx","type":"quantitative"},"y":{"field":"ly","type":"quantitative"},"text":{"field":"t"}}},
 {"data":{"name":"rlabels"},"transform":[{"calculate":"datum.v*cos(10*PI/180)","as":"lx"},{"calculate":"datum.v*sin(10*PI/180)","as":"ly"}],"mark":{"type":"text","font":"Liberation Sans","fontSize":8,"fill":"#8a8a8a","align":"left","baseline":"middle"},"encoding":{"x":{"field":"lx","type":"quantitative"},"y":{"field":"ly","type":"quantitative"},"text":{"field":"t"}}},
 {"data":{"name":"curves"},"transform":[{"filter":"datum.f==125"},{"calculate":"max(datum.d+30,0)","as":"rr"},{"calculate":"datum.rr*cos(datum.a*PI/180)","as":"px"},{"calculate":"datum.rr*sin(datum.a*PI/180)","as":"py"}],"mark":{"type":"line","strokeWidth":1.5,"interpolate":"catmull-rom"},"encoding":{"x":{"field":"px","type":"quantitative"},"y":{"field":"py","type":"quantitative"},"order":{"field":"a","type":"quantitative"},"color":{"field":"s","type":"nominal","title":null,"scale":{"domain":["Measurement","Simulation"],"range":["#000000","#0000ff"]}}}},
 {"data":{"values":[{"t":"125 Hz"}]},"mark":{"type":"text","font":"Open Sans","fontSize":11,"fontWeight":"bold","fill":"#000","baseline":"middle"},"encoding":{"x":{"datum":0,"type":"quantitative"},"y":{"datum":37.8,"type":"quantitative"},"text":{"field":"t"}}}
]},
{"width":200,"height":200,"layer":[
 {"data":{"name":"rings"},"mark":{"type":"arc","theta":0,"theta2":6.2832,"filled":false,"stroke":"#d6d6d6","strokeWidth":0.8},"encoding":{"x":{"datum":0,"type":"quantitative","scale":{"domain":[-30,30],"nice":false,"zero":false},"axis":null},"y":{"datum":0,"type":"quantitative","scale":{"domain":[-30,30],"nice":false,"zero":false},"axis":null},"radius":{"field":"v","type":"quantitative","scale":{"type":"linear","domain":[0,30],"range":[0,100],"zero":true}}}},
 {"data":{"name":"spokes"},"transform":[{"calculate":"30*cos(datum.a*PI/180)","as":"x1"},{"calculate":"30*sin(datum.a*PI/180)","as":"y1"},{"calculate":"-datum.x1","as":"x2"},{"calculate":"-datum.y1","as":"y2"}],"mark":{"type":"rule","stroke":"#d6d6d6","strokeWidth":0.8},"encoding":{"x":{"field":"x1","type":"quantitative"},"y":{"field":"y1","type":"quantitative"},"x2":{"field":"x2"},"y2":{"field":"y2"}}},
 {"data":{"name":"outer"},"mark":{"type":"arc","theta":0,"theta2":6.2832,"filled":false,"stroke":"#000","strokeWidth":1.1},"encoding":{"x":{"datum":0,"type":"quantitative"},"y":{"datum":0,"type":"quantitative"},"radius":{"field":"v","type":"quantitative"}}},
 {"data":{"name":"alabels"},"transform":[{"calculate":"32.4*cos(datum.a*PI/180)","as":"lx"},{"calculate":"32.4*sin(datum.a*PI/180)","as":"ly"}],"mark":{"type":"text","font":"Liberation Sans","fontSize":8,"fill":"#8a8a8a","align":"center","baseline":"middle"},"encoding":{"x":{"field":"lx","type":"quantitative"},"y":{"field":"ly","type":"quantitative"},"text":{"field":"t"}}},
 {"data":{"name":"rlabels"},"transform":[{"calculate":"datum.v*cos(10*PI/180)","as":"lx"},{"calculate":"datum.v*sin(10*PI/180)","as":"ly"}],"mark":{"type":"text","font":"Liberation Sans","fontSize":8,"fill":"#8a8a8a","align":"left","baseline":"middle"},"encoding":{"x":{"field":"lx","type":"quantitative"},"y":{"field":"ly","type":"quantitative"},"text":{"field":"t"}}},
 {"data":{"name":"curves"},"transform":[{"filter":"datum.f==250"},{"calculate":"max(datum.d+30,0)","as":"rr"},{"calculate":"datum.rr*cos(datum.a*PI/180)","as":"px"},{"calculate":"datum.rr*sin(datum.a*PI/180)","as":"py"}],"mark":{"type":"line","strokeWidth":1.5,"interpolate":"catmull-rom"},"encoding":{"x":{"field":"px","type":"quantitative"},"y":{"field":"py","type":"quantitative"},"order":{"field":"a","type":"quantitative"},"color":{"field":"s","type":"nominal","title":null,"scale":{"domain":["Measurement","Simulation"],"range":["#000000","#0000ff"]}}}},
 {"data":{"values":[{"t":"250 Hz"}]},"mark":{"type":"text","font":"Open Sans","fontSize":11,"fontWeight":"bold","fill":"#000","baseline":"middle"},"encoding":{"x":{"datum":0,"type":"quantitative"},"y":{"datum":37.8,"type":"quantitative"},"text":{"field":"t"}}}
]},
{"width":200,"height":200,"layer":[
 {"data":{"name":"rings"},"mark":{"type":"arc","theta":0,"theta2":6.2832,"filled":false,"stroke":"#d6d6d6","strokeWidth":0.8},"encoding":{"x":{"datum":0,"type":"quantitative","scale":{"domain":[-30,30],"nice":false,"zero":false},"axis":null},"y":{"datum":0,"type":"quantitative","scale":{"domain":[-30,30],"nice":false,"zero":false},"axis":null},"radius":{"field":"v","type":"quantitative","scale":{"type":"linear","domain":[0,30],"range":[0,100],"zero":true}}}},
 {"data":{"name":"spokes"},"transform":[{"calculate":"30*cos(datum.a*PI/180)","as":"x1"},{"calculate":"30*sin(datum.a*PI/180)","as":"y1"},{"calculate":"-datum.x1","as":"x2"},{"calculate":"-datum.y1","as":"y2"}],"mark":{"type":"rule","stroke":"#d6d6d6","strokeWidth":0.8},"encoding":{"x":{"field":"x1","type":"quantitative"},"y":{"field":"y1","type":"quantitative"},"x2":{"field":"x2"},"y2":{"field":"y2"}}},
 {"data":{"name":"outer"},"mark":{"type":"arc","theta":0,"theta2":6.2832,"filled":false,"stroke":"#000","strokeWidth":1.1},"encoding":{"x":{"datum":0,"type":"quantitative"},"y":{"datum":0,"type":"quantitative"},"radius":{"field":"v","type":"quantitative"}}},
 {"data":{"name":"alabels"},"transform":[{"calculate":"32.4*cos(datum.a*PI/180)","as":"lx"},{"calculate":"32.4*sin(datum.a*PI/180)","as":"ly"}],"mark":{"type":"text","font":"Liberation Sans","fontSize":8,"fill":"#8a8a8a","align":"center","baseline":"middle"},"encoding":{"x":{"field":"lx","type":"quantitative"},"y":{"field":"ly","type":"quantitative"},"text":{"field":"t"}}},
 {"data":{"name":"rlabels"},"transform":[{"calculate":"datum.v*cos(10*PI/180)","as":"lx"},{"calculate":"datum.v*sin(10*PI/180)","as":"ly"}],"mark":{"type":"text","font":"Liberation Sans","fontSize":8,"fill":"#8a8a8a","align":"left","baseline":"middle"},"encoding":{"x":{"field":"lx","type":"quantitative"},"y":{"field":"ly","type":"quantitative"},"text":{"field":"t"}}},
 {"data":{"name":"curves"},"transform":[{"filter":"datum.f==500"},{"calculate":"max(datum.d+30,0)","as":"rr"},{"calculate":"datum.rr*cos(datum.a*PI/180)","as":"px"},{"calculate":"datum.rr*sin(datum.a*PI/180)","as":"py"}],"mark":{"type":"line","strokeWidth":1.5,"interpolate":"catmull-rom"},"encoding":{"x":{"field":"px","type":"quantitative"},"y":{"field":"py","type":"quantitative"},"order":{"field":"a","type":"quantitative"},"color":{"field":"s","type":"nominal","title":null,"scale":{"domain":["Measurement","Simulation"],"range":["#000000","#0000ff"]}}}},
 {"data":{"values":[{"t":"500 Hz"}]},"mark":{"type":"text","font":"Open Sans","fontSize":11,"fontWeight":"bold","fill":"#000","baseline":"middle"},"encoding":{"x":{"datum":0,"type":"quantitative"},"y":{"datum":37.8,"type":"quantitative"},"text":{"field":"t"}}}
]},
{"width":200,"height":200,"layer":[
 {"data":{"name":"rings"},"mark":{"type":"arc","theta":0,"theta2":6.2832,"filled":false,"stroke":"#d6d6d6","strokeWidth":0.8},"encoding":{"x":{"datum":0,"type":"quantitative","scale":{"domain":[-30,30],"nice":false,"zero":false},"axis":null},"y":{"datum":0,"type":"quantitative","scale":{"domain":[-30,30],"nice":false,"zero":false},"axis":null},"radius":{"field":"v","type":"quantitative","scale":{"type":"linear","domain":[0,30],"range":[0,100],"zero":true}}}},
 {"data":{"name":"spokes"},"transform":[{"calculate":"30*cos(datum.a*PI/180)","as":"x1"},{"calculate":"30*sin(datum.a*PI/180)","as":"y1"},{"calculate":"-datum.x1","as":"x2"},{"calculate":"-datum.y1","as":"y2"}],"mark":{"type":"rule","stroke":"#d6d6d6","strokeWidth":0.8},"encoding":{"x":{"field":"x1","type":"quantitative"},"y":{"field":"y1","type":"quantitative"},"x2":{"field":"x2"},"y2":{"field":"y2"}}},
 {"data":{"name":"outer"},"mark":{"type":"arc","theta":0,"theta2":6.2832,"filled":false,"stroke":"#000","strokeWidth":1.1},"encoding":{"x":{"datum":0,"type":"quantitative"},"y":{"datum":0,"type":"quantitative"},"radius":{"field":"v","type":"quantitative"}}},
 {"data":{"name":"alabels"},"transform":[{"calculate":"32.4*cos(datum.a*PI/180)","as":"lx"},{"calculate":"32.4*sin(datum.a*PI/180)","as":"ly"}],"mark":{"type":"text","font":"Liberation Sans","fontSize":8,"fill":"#8a8a8a","align":"center","baseline":"middle"},"encoding":{"x":{"field":"lx","type":"quantitative"},"y":{"field":"ly","type":"quantitative"},"text":{"field":"t"}}},
 {"data":{"name":"rlabels"},"transform":[{"calculate":"datum.v*cos(10*PI/180)","as":"lx"},{"calculate":"datum.v*sin(10*PI/180)","as":"ly"}],"mark":{"type":"text","font":"Liberation Sans","fontSize":8,"fill":"#8a8a8a","align":"left","baseline":"middle"},"encoding":{"x":{"field":"lx","type":"quantitative"},"y":{"field":"ly","type":"quantitative"},"text":{"field":"t"}}},
 {"data":{"name":"curves"},"transform":[{"filter":"datum.f==1000"},{"calculate":"max(datum.d+30,0)","as":"rr"},{"calculate":"datum.rr*cos(datum.a*PI/180)","as":"px"},{"calculate":"datum.rr*sin(datum.a*PI/180)","as":"py"}],"mark":{"type":"line","strokeWidth":1.5},"encoding":{"x":{"field":"px","type":"quantitative"},"y":{"field":"py","type":"quantitative"},"order":{"field":"a","type":"quantitative"},"color":{"field":"s","type":"nominal","title":null,"scale":{"domain":["Measurement","Simulation"],"range":["#000000","#0000ff"]}}}},
 {"data":{"values":[{"t":"1000 Hz"}]},"mark":{"type":"text","font":"Open Sans","fontSize":11,"fontWeight":"bold","fill":"#000","baseline":"middle"},"encoding":{"x":{"datum":0,"type":"quantitative"},"y":{"datum":37.8,"type":"quantitative"},"text":{"field":"t"}}}
]},
{"width":200,"height":200,"layer":[
 {"data":{"name":"rings"},"mark":{"type":"arc","theta":0,"theta2":6.2832,"filled":false,"stroke":"#d6d6d6","strokeWidth":0.8},"encoding":{"x":{"datum":0,"type":"quantitative","scale":{"domain":[-30,30],"nice":false,"zero":false},"axis":null},"y":{"datum":0,"type":"quantitative","scale":{"domain":[-30,30],"nice":false,"zero":false},"axis":null},"radius":{"field":"v","type":"quantitative","scale":{"type":"linear","domain":[0,30],"range":[0,100],"zero":true}}}},
 {"data":{"name":"spokes"},"transform":[{"calculate":"30*cos(datum.a*PI/180)","as":"x1"},{"calculate":"30*sin(datum.a*PI/180)","as":"y1"},{"calculate":"-datum.x1","as":"x2"},{"calculate":"-datum.y1","as":"y2"}],"mark":{"type":"rule","stroke":"#d6d6d6","strokeWidth":0.8},"encoding":{"x":{"field":"x1","type":"quantitative"},"y":{"field":"y1","type":"quantitative"},"x2":{"field":"x2"},"y2":{"field":"y2"}}},
 {"data":{"name":"outer"},"mark":{"type":"arc","theta":0,"theta2":6.2832,"filled":false,"stroke":"#000","strokeWidth":1.1},"encoding":{"x":{"datum":0,"type":"quantitative"},"y":{"datum":0,"type":"quantitative"},"radius":{"field":"v","type":"quantitative"}}},
 {"data":{"name":"alabels"},"transform":[{"calculate":"32.4*cos(datum.a*PI/180)","as":"lx"},{"calculate":"32.4*sin(datum.a*PI/180)","as":"ly"}],"mark":{"type":"text","font":"Liberation Sans","fontSize":8,"fill":"#8a8a8a","align":"center","baseline":"middle"},"encoding":{"x":{"field":"lx","type":"quantitative"},"y":{"field":"ly","type":"quantitative"},"text":{"field":"t"}}},
 {"data":{"name":"rlabels"},"transform":[{"calculate":"datum.v*cos(10*PI/180)","as":"lx"},{"calculate":"datum.v*sin(10*PI/180)","as":"ly"}],"mark":{"type":"text","font":"Liberation Sans","fontSize":8,"fill":"#8a8a8a","align":"left","baseline":"middle"},"encoding":{"x":{"field":"lx","type":"quantitative"},"y":{"field":"ly","type":"quantitative"},"text":{"field":"t"}}},
 {"data":{"name":"curves"},"transform":[{"filter":"datum.f==2000"},{"calculate":"max(datum.d+30,0)","as":"rr"},{"calculate":"datum.rr*cos(datum.a*PI/180)","as":"px"},{"calculate":"datum.rr*sin(datum.a*PI/180)","as":"py"}],"mark":{"type":"line","strokeWidth":1.5},"encoding":{"x":{"field":"px","type":"quantitative"},"y":{"field":"py","type":"quantitative"},"order":{"field":"a","type":"quantitative"},"color":{"field":"s","type":"nominal","title":null,"scale":{"domain":["Measurement","Simulation"],"range":["#000000","#0000ff"]}}}},
 {"data":{"values":[{"t":"2000 Hz"}]},"mark":{"type":"text","font":"Open Sans","fontSize":11,"fontWeight":"bold","fill":"#000","baseline":"middle"},"encoding":{"x":{"datum":0,"type":"quantitative"},"y":{"datum":37.8,"type":"quantitative"},"text":{"field":"t"}}}
]},
{"width":200,"height":200,"layer":[
 {"data":{"name":"rings"},"mark":{"type":"arc","theta":0,"theta2":6.2832,"filled":false,"stroke":"#d6d6d6","strokeWidth":0.8},"encoding":{"x":{"datum":0,"type":"quantitative","scale":{"domain":[-30,30],"nice":false,"zero":false},"axis":null},"y":{"datum":0,"type":"quantitative","scale":{"domain":[-30,30],"nice":false,"zero":false},"axis":null},"radius":{"field":"v","type":"quantitative","scale":{"type":"linear","domain":[0,30],"range":[0,100],"zero":true}}}},
 {"data":{"name":"spokes"},"transform":[{"calculate":"30*cos(datum.a*PI/180)","as":"x1"},{"calculate":"30*sin(datum.a*PI/180)","as":"y1"},{"calculate":"-datum.x1","as":"x2"},{"calculate":"-datum.y1","as":"y2"}],"mark":{"type":"rule","stroke":"#d6d6d6","strokeWidth":0.8},"encoding":{"x":{"field":"x1","type":"quantitative"},"y":{"field":"y1","type":"quantitative"},"x2":{"field":"x2"},"y2":{"field":"y2"}}},
 {"data":{"name":"outer"},"mark":{"type":"arc","theta":0,"theta2":6.2832,"filled":false,"stroke":"#000","strokeWidth":1.1},"encoding":{"x":{"datum":0,"type":"quantitative"},"y":{"datum":0,"type":"quantitative"},"radius":{"field":"v","type":"quantitative"}}},
 {"data":{"name":"alabels"},"transform":[{"calculate":"32.4*cos(datum.a*PI/180)","as":"lx"},{"calculate":"32.4*sin(datum.a*PI/180)","as":"ly"}],"mark":{"type":"text","font":"Liberation Sans","fontSize":8,"fill":"#8a8a8a","align":"center","baseline":"middle"},"encoding":{"x":{"field":"lx","type":"quantitative"},"y":{"field":"ly","type":"quantitative"},"text":{"field":"t"}}},
 {"data":{"name":"rlabels"},"transform":[{"calculate":"datum.v*cos(10*PI/180)","as":"lx"},{"calculate":"datum.v*sin(10*PI/180)","as":"ly"}],"mark":{"type":"text","font":"Liberation Sans","fontSize":8,"fill":"#8a8a8a","align":"left","baseline":"middle"},"encoding":{"x":{"field":"lx","type":"quantitative"},"y":{"field":"ly","type":"quantitative"},"text":{"field":"t"}}},
 {"data":{"name":"curves"},"transform":[{"filter":"datum.f==4000"},{"calculate":"max(datum.d+30,0)","as":"rr"},{"calculate":"datum.rr*cos(datum.a*PI/180)","as":"px"},{"calculate":"datum.rr*sin(datum.a*PI/180)","as":"py"}],"mark":{"type":"line","strokeWidth":1.5},"encoding":{"x":{"field":"px","type":"quantitative"},"y":{"field":"py","type":"quantitative"},"order":{"field":"a","type":"quantitative"},"color":{"field":"s","type":"nominal","title":null,"scale":{"domain":["Measurement","Simulation"],"range":["#000000","#0000ff"]}}}},
 {"data":{"values":[{"t":"4000 Hz"}]},"mark":{"type":"text","font":"Open Sans","fontSize":11,"fontWeight":"bold","fill":"#000","baseline":"middle"},"encoding":{"x":{"datum":0,"type":"quantitative"},"y":{"datum":37.8,"type":"quantitative"},"text":{"field":"t"}}}
]},
{"width":200,"height":200,"layer":[
 {"data":{"name":"rings"},"mark":{"type":"arc","theta":0,"theta2":6.2832,"filled":false,"stroke":"#d6d6d6","strokeWidth":0.8},"encoding":{"x":{"datum":0,"type":"quantitative","scale":{"domain":[-30,30],"nice":false,"zero":false},"axis":null},"y":{"datum":0,"type":"quantitative","scale":{"domain":[-30,30],"nice":false,"zero":false},"axis":null},"radius":{"field":"v","type":"quantitative","scale":{"type":"linear","domain":[0,30],"range":[0,100],"zero":true}}}},
 {"data":{"name":"spokes"},"transform":[{"calculate":"30*cos(datum.a*PI/180)","as":"x1"},{"calculate":"30*sin(datum.a*PI/180)","as":"y1"},{"calculate":"-datum.x1","as":"x2"},{"calculate":"-datum.y1","as":"y2"}],"mark":{"type":"rule","stroke":"#d6d6d6","strokeWidth":0.8},"encoding":{"x":{"field":"x1","type":"quantitative"},"y":{"field":"y1","type":"quantitative"},"x2":{"field":"x2"},"y2":{"field":"y2"}}},
 {"data":{"name":"outer"},"mark":{"type":"arc","theta":0,"theta2":6.2832,"filled":false,"stroke":"#000","strokeWidth":1.1},"encoding":{"x":{"datum":0,"type":"quantitative"},"y":{"datum":0,"type":"quantitative"},"radius":{"field":"v","type":"quantitative"}}},
 {"data":{"name":"alabels"},"transform":[{"calculate":"32.4*cos(datum.a*PI/180)","as":"lx"},{"calculate":"32.4*sin(datum.a*PI/180)","as":"ly"}],"mark":{"type":"text","font":"Liberation Sans","fontSize":8,"fill":"#8a8a8a","align":"center","baseline":"middle"},"encoding":{"x":{"field":"lx","type":"quantitative"},"y":{"field":"ly","type":"quantitative"},"text":{"field":"t"}}},
 {"data":{"name":"rlabels"},"transform":[{"calculate":"datum.v*cos(10*PI/180)","as":"lx"},{"calculate":"datum.v*sin(10*PI/180)","as":"ly"}],"mark":{"type":"text","font":"Liberation Sans","fontSize":8,"fill":"#8a8a8a","align":"left","baseline":"middle"},"encoding":{"x":{"field":"lx","type":"quantitative"},"y":{"field":"ly","type":"quantitative"},"text":{"field":"t"}}},
 {"data":{"name":"curves"},"transform":[{"filter":"datum.f==8000"},{"calculate":"max(datum.d+30,0)","as":"rr"},{"calculate":"datum.rr*cos(datum.a*PI/180)","as":"px"},{"calculate":"datum.rr*sin(datum.a*PI/180)","as":"py"}],"mark":{"type":"line","strokeWidth":1.5},"encoding":{"x":{"field":"px","type":"quantitative"},"y":{"field":"py","type":"quantitative"},"order":{"field":"a","type":"quantitative"},"color":{"field":"s","type":"nominal","title":null,"scale":{"domain":["Measurement","Simulation"],"range":["#000000","#0000ff"]}}}},
 {"data":{"values":[{"t":"8000 Hz"}]},"mark":{"type":"text","font":"Open Sans","fontSize":11,"fontWeight":"bold","fill":"#000","baseline":"middle"},"encoding":{"x":{"datum":0,"type":"quantitative"},"y":{"datum":37.8,"type":"quantitative"},"text":{"field":"t"}}}
]},
{"width":200,"height":200,"layer":[
 {"data":{"name":"rings"},"mark":{"type":"arc","theta":0,"theta2":6.2832,"filled":false,"stroke":"#d6d6d6","strokeWidth":0.8},"encoding":{"x":{"datum":0,"type":"quantitative","scale":{"domain":[-30,30],"nice":false,"zero":false},"axis":null},"y":{"datum":0,"type":"quantitative","scale":{"domain":[-30,30],"nice":false,"zero":false},"axis":null},"radius":{"field":"v","type":"quantitative","scale":{"type":"linear","domain":[0,30],"range":[0,100],"zero":true}}}},
 {"data":{"name":"spokes"},"transform":[{"calculate":"30*cos(datum.a*PI/180)","as":"x1"},{"calculate":"30*sin(datum.a*PI/180)","as":"y1"},{"calculate":"-datum.x1","as":"x2"},{"calculate":"-datum.y1","as":"y2"}],"mark":{"type":"rule","stroke":"#d6d6d6","strokeWidth":0.8},"encoding":{"x":{"field":"x1","type":"quantitative"},"y":{"field":"y1","type":"quantitative"},"x2":{"field":"x2"},"y2":{"field":"y2"}}},
 {"data":{"name":"outer"},"mark":{"type":"arc","theta":0,"theta2":6.2832,"filled":false,"stroke":"#000","strokeWidth":1.1},"encoding":{"x":{"datum":0,"type":"quantitative"},"y":{"datum":0,"type":"quantitative"},"radius":{"field":"v","type":"quantitative"}}},
 {"data":{"name":"alabels"},"transform":[{"calculate":"32.4*cos(datum.a*PI/180)","as":"lx"},{"calculate":"32.4*sin(datum.a*PI/180)","as":"ly"}],"mark":{"type":"text","font":"Liberation Sans","fontSize":8,"fill":"#8a8a8a","align":"center","baseline":"middle"},"encoding":{"x":{"field":"lx","type":"quantitative"},"y":{"field":"ly","type":"quantitative"},"text":{"field":"t"}}},
 {"data":{"name":"rlabels"},"transform":[{"calculate":"datum.v*cos(10*PI/180)","as":"lx"},{"calculate":"datum.v*sin(10*PI/180)","as":"ly"}],"mark":{"type":"text","font":"Liberation Sans","fontSize":8,"fill":"#8a8a8a","align":"left","baseline":"middle"},"encoding":{"x":{"field":"lx","type":"quantitative"},"y":{"field":"ly","type":"quantitative"},"text":{"field":"t"}}},
 {"data":{"name":"curves"},"transform":[{"filter":"datum.f==16000"},{"calculate":"max(datum.d+30,0)","as":"rr"},{"calculate":"datum.rr*cos(datum.a*PI/180)","as":"px"},{"calculate":"datum.rr*sin(datum.a*PI/180)","as":"py"}],"mark":{"type":"line","strokeWidth":1.5},"encoding":{"x":{"field":"px","type":"quantitative"},"y":{"field":"py","type":"quantitative"},"order":{"field":"a","type":"quantitative"},"color":{"field":"s","type":"nominal","title":null,"scale":{"domain":["Measurement","Simulation"],"range":["#000000","#0000ff"]}}}},
 {"data":{"values":[{"t":"16000 Hz"}]},"mark":{"type":"text","font":"Open Sans","fontSize":11,"fontWeight":"bold","fill":"#000","baseline":"middle"},"encoding":{"x":{"datum":0,"type":"quantitative"},"y":{"datum":37.8,"type":"quantitative"},"text":{"field":"t"}}}
]}
]
}
